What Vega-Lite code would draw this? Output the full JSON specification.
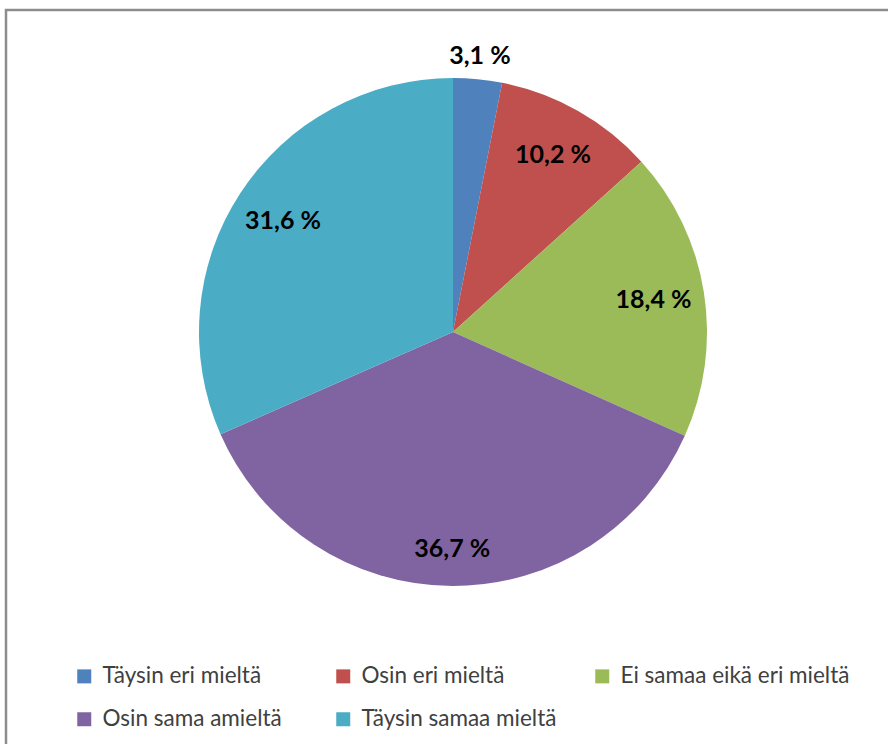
{
  "$schema": "https://vega.github.io/schema/vega-lite/v6.json",
  "width": 508,
  "height": 510,
  "autosize": {"type": "none"},
  "padding": {"left": 199, "top": 77, "right": 181, "bottom": 157},
  "background": "white",
  "data": {
    "values": [
      {"category": "Täysin eri mieltä", "value": 3.1, "label": "3,1 %", "n": 1},
      {"category": "Osin eri mieltä", "value": 10.2, "label": "10,2 %", "n": 2},
      {"category": "Ei samaa eikä eri mieltä", "value": 18.4, "label": "18,4 %", "n": 3},
      {"category": "Osin sama amieltä", "value": 36.7, "label": "36,7 %", "n": 4},
      {"category": "Täysin samaa mieltä", "value": 31.6, "label": "31,6 %", "n": 5}
    ]
  },
  "encoding": {
    "theta": {"field": "value", "type": "quantitative", "stack": true},
    "order": {"field": "n", "type": "quantitative"}
  },
  "layer": [
    {
      "mark": {"type": "arc", "outerRadius": 254, "stroke": null},
      "encoding": {
        "color": {
          "field": "category",
          "type": "nominal",
          "sort": null,
          "scale": {
            "domain": ["Täysin eri mieltä", "Osin eri mieltä", "Ei samaa eikä eri mieltä", "Osin sama amieltä", "Täysin samaa mieltä"],
            "range": ["#4F81BD", "#C0504D", "#9BBB59", "#8064A2", "#4BACC6"]
          },
          "legend": {
            "orient": "none",
            "legendX": -193,
            "legendY": -67,
            "direction": "horizontal",
            "columns": 3,
            "gridAlign": "all",
            "title": " ",
            "titleFontSize": 10,
            "titlePadding": 578,
            "padding": 67,
            "strokeColor": "#8c8c8c",
            "symbolType": "square",
            "symbolSize": 196,
            "symbolStrokeWidth": 0,
            "symbolOpacity": 1,
            "labelFont": "Lato",
            "labelFontSize": 22.5,
            "labelColor": "#404040",
            "labelOffset": 7,
            "labelLimit": 400,
            "rowPadding": 20,
            "columnPadding": -8
          }
        }
      }
    },
    {
      "mark": {"type": "text", "font": "Lato", "fontWeight": "bold", "fontSize": 25, "color": "black", "radius": 203},
      "encoding": {
        "text": {"condition": {"test": "datum.value < 5 || datum.value > 35", "value": ""}, "field": "label", "type": "nominal"}
      }
    },
    {
      "mark": {"type": "text", "font": "Lato", "fontWeight": "bold", "fontSize": 25, "color": "black", "radius": 277},
      "encoding": {
        "text": {"condition": {"test": "datum.value >= 5", "value": ""}, "field": "label", "type": "nominal"}
      }
    },
    {
      "mark": {"type": "text", "font": "Lato", "fontWeight": "bold", "fontSize": 25, "color": "black", "radius": 217},
      "encoding": {
        "text": {"condition": {"test": "datum.value <= 35", "value": ""}, "field": "label", "type": "nominal"}
      }
    }
  ],
  "config": {
    "view": {"stroke": null},
    "legend": {"strokeWidth": 2.5}
  }
}
